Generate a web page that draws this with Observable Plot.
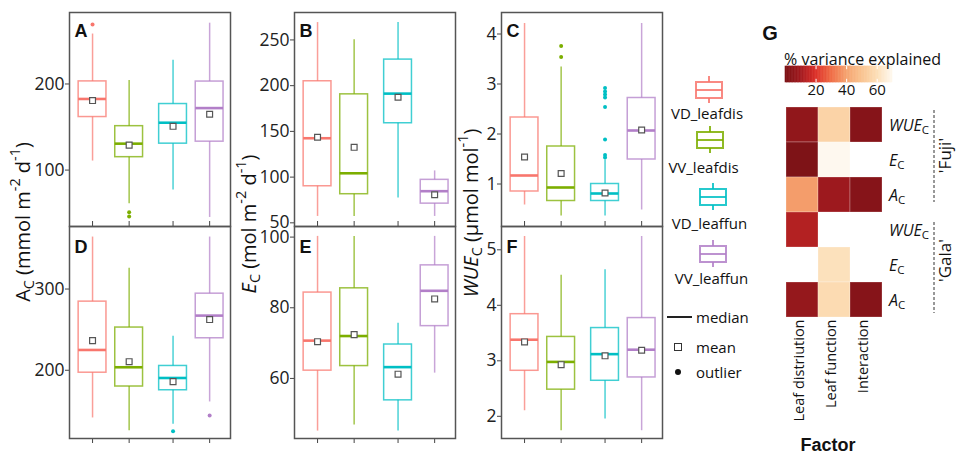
<!DOCTYPE html>
<html><head><meta charset="utf-8">
<script src="https://cdn.jsdelivr.net/npm/d3@7"></script>
<script src="https://cdn.jsdelivr.net/npm/@observablehq/plot@0.6"></script>
<style>
html,body{margin:0;padding:0;background:#fff;}
#chart{position:relative;width:956px;height:454px;overflow:hidden;font-family:"Open Sans",sans-serif;color:#111;}
</style></head>
<body><div id="chart"></div>
<script>
// ---------- box-plot data ----------
const groups = ["VD_leafdis", "VV_leafdis", "VD_leaffun", "VV_leaffun"];
const groupColors = ["#F8766D", "#7CAE00", "#00BFC4", "#B27FC8"];
const groupX = [1, 2, 3.2, 4.2];

// Panel A: A_C, 'Fuji'
const A_low  = [110.5, 61, 77, 45];
const A_q1   = [161.6, 115, 130.7, 133];
const A_med  = [182.6, 130.7, 155, 172];
const A_q3   = [203, 151, 176.7, 202.8];
const A_high = [258, 204, 227.6, 270.6];
const A_mean = [180.7, 129, 150.8, 164.8];
const A_out  = [[269], [51, 46], [], []];
const A_ticks = [100, 200];

// Panel B: E_C, 'Fuji'
const B_low  = [57, 57, 77.3, 57];
const B_q1   = [90, 81.3, 158.9, 71];
const B_med  = [142.5, 104.2, 191.3, 84.6];
const B_q3   = [204.8, 190.5, 228.5, 97];
const B_high = [269, 250.3, 269, 106.8];
const B_mean = [143.6, 132.6, 187.3, 80.7];
const B_out  = [[], [], [], []];
const B_ticks = [50, 100, 150, 200, 250];

// Panel C: WUE_C, 'Fuji'
const C_low  = [0.58, 0.36, 0.36, 0.48];
const C_q1   = [0.85, 0.66, 0.66, 1.49];
const C_med  = [1.17, 0.93, 0.81, 2.07];
const C_q3   = [2.33, 1.75, 1.0, 2.72];
const C_high = [4.21, 3.34, 1.48, 4.21];
const C_mean = [1.54, 1.21, 0.82, 2.08];
const C_out  = [[], [3.76, 3.54], [2.92, 2.85, 2.79, 2.73, 2.54, 1.89, 1.58, 1.53], []];
const C_ticks = [1, 2, 3, 4];

// Panel D: A_C, 'Gala'
const D_low  = [141.3, 125.4, 133.6, 161];
const D_q1   = [197, 180, 175.4, 239.4];
const D_med  = [225, 203.7, 190.5, 267.3];
const D_q3   = [284.5, 252.6, 205.3, 294.3];
const D_high = [364, 325.5, 241.8, 364];
const D_mean = [236.5, 210.6, 186, 262.4];
const D_out  = [[], [], [125], [144.3]];
const D_ticks = [200, 300];

// Panel E: E_C, 'Gala'
const E_low  = [45.1, 46.8, 45.1, 61.5];
const E_q1   = [62.2, 63.5, 53.8, 74.8];
const E_med  = [70.7, 72, 63.2, 84.8];
const E_q3   = [84.3, 85.5, 69.6, 92];
const E_high = [100.2, 100.2, 75.6, 100.2];
const E_mean = [70.4, 72.4, 61.2, 82.5];
const E_out  = [[], [], [], []];
const E_ticks = [60, 80, 100];

// Panel F: WUE_C, 'Gala'
const F_low  = [2.1, 1.74, 1.95, 1.74];
const F_q1   = [2.82, 2.48, 2.64, 2.7];
const F_med  = [3.38, 2.98, 3.12, 3.2];
const F_q3   = [3.84, 3.43, 3.59, 3.77];
const F_high = [5.24, 4.54, 4.64, 5.24];
const F_mean = [3.34, 2.93, 3.09, 3.19];
const F_out  = [[], [], [], []];
const F_ticks = [2, 3, 4, 5];

// ---------- heatmap data (% variance explained) ----------
const hmFactors  = ["Leaf distriution", "Leaf function", "Interaction"];
const hmCultivar = ["Fuji", "Fuji", "Fuji", "Gala", "Gala", "Gala"];
const hmVar      = ["WUE", "E", "A", "WUE", "E", "A"];
const hmLeafDis  = [6, 1, 39, 13, null, 7];
const hmLeafFun  = [56, 70, 9, null, 61, 59];
const hmInteract = [3, null, 3, null, null, 3];
const cbTicks = [20, 40, 60];
const cbStops  = [0, 10, 20, 30, 40, 50, 60, 70];
const cbColors = ["#7a1216", "#a11a1f", "#dc3029", "#ef6b45", "#f5a26f", "#f9c390", "#fcdeb6", "#fef8ef"];

// ---------- layout ----------
const chart = document.getElementById("chart");
function place(el, left, top) {
  el.style.position = "absolute";
  el.style.left = left + "px";
  el.style.top = top + "px";
  chart.appendChild(el);
  return el;
}
const FONT = "'Open Sans', sans-serif";
const PW = 161;

function boxPanel(letter, low, q1, med, q3, high, mean, out, yDomain, yTicks, left, row) {
  const rows = groups.map((g, i) => ({g, x: groupX[i], color: groupColors[i], low: low[i], q1: q1[i], med: med[i], q3: q3[i], high: high[i], mean: mean[i]}));
  const outl = rows.flatMap((r, i) => out[i].map(v => ({x: r.x, color: r.color, v})));
  const mL = 52, mR = 1;
  const mT = row === 0 ? 12 : 0, mB = row === 0 ? 0 : 8;
  const ph = row === 0 ? 214 : 212;
  const hw = 0.38;
  const p = Plot.plot({
    width: mL + PW + mR, height: mT + ph + mB,
    marginLeft: mL, marginRight: mR, marginTop: mT, marginBottom: mB,
    x: {domain: [0.37, 4.77], axis: null},
    y: {domain: yDomain, axis: null},
    color: {type: "identity"},
    style: {fontFamily: FONT, fontSize: "17.5px", color: "#222", background: "transparent", overflow: "visible"},
    marks: [
      Plot.axisY({ticks: yTicks, tickSize: 4, tickPadding: 1, fontSize: 17.5, label: null, stroke: "#444", tickFormat: d => String(d)}),
      Plot.axisX({ticks: groupX, tickSize: 5, tickFormat: () => "", label: null, dy: row === 0 ? -5 : 0, stroke: "#444"}),
      Plot.ruleX(rows, {x: "x", y1: "low", y2: "q1", stroke: "color", strokeOpacity: 0.7, strokeWidth: 1.5}),
      Plot.ruleX(rows, {x: "x", y1: "q3", y2: "high", stroke: "color", strokeOpacity: 0.7, strokeWidth: 1.5}),
      Plot.rect(rows, {x1: d => d.x - hw, x2: d => d.x + hw, y1: "q1", y2: "q3", fill: "none", stroke: "color", strokeOpacity: 0.75, strokeWidth: 1.5}),
      Plot.ruleY(rows, {y: "med", x1: d => d.x - hw, x2: d => d.x + hw, stroke: "color", strokeWidth: 2.6}),
      Plot.dot(outl, {x: "x", y: "v", fill: "color", r: 2}),
      Plot.dot(rows, {x: "x", y: "mean", symbol: "square", r: 3.3, fill: "white", stroke: "#555", strokeWidth: 1.2}),
      Plot.frame({stroke: "#555", strokeWidth: 1.5}),
      Plot.text([letter], {frameAnchor: "top-left", text: d => d, dx: 5, dy: row === 0 ? 12 : 14, textAnchor: "start", fontWeight: "bold", fontSize: 18, fontFamily: "'Liberation Sans', Arial, sans-serif", fill: "#111"})
    ]
  });
  return place(p, left - mL, row === 0 ? 0 : 226);
}

boxPanel("A", A_low, A_q1, A_med, A_q3, A_high, A_mean, A_out, [34.5, 283], A_ticks, 69, 0);
boxPanel("B", B_low, B_q1, B_med, B_q3, B_high, B_mean, B_out, [46, 280], B_ticks, 294, 0);
boxPanel("C", C_low, C_q1, C_med, C_q3, C_high, C_mean, C_out, [0.15, 4.43], C_ticks, 501, 0);
boxPanel("D", D_low, D_q1, D_med, D_q3, D_high, D_mean, D_out, [116, 377], D_ticks, 69, 1);
boxPanel("E", E_low, E_q1, E_med, E_q3, E_high, E_mean, E_out, [43, 103], E_ticks, 294, 1);
boxPanel("F", F_low, F_q1, F_med, F_q3, F_high, F_mean, F_out, [1.6, 5.42], F_ticks, 501, 1);

// ---------- heatmap ----------
const hmKeys = hmCultivar.map((c, i) => c + " " + hmVar[i]);
const hmCells = [];
hmKeys.forEach((k, i) => {
  [hmLeafDis, hmLeafFun, hmInteract].forEach((arr, j) => {
    if (arr[i] != null) hmCells.push({row: k, factor: hmFactors[j], value: arr[i]});
  });
});
const colorOpts = {type: "linear", domain: cbStops, range: cbColors, clamp: true};
const hmTop = 107, hmLeft = 785;
const hm = Plot.plot({
  width: 97, height: 210 + 125,
  marginLeft: 0, marginRight: 0, marginTop: 0, marginBottom: 125,
  x: {domain: hmFactors, padding: 0, axis: null},
  y: {domain: hmKeys, padding: 0, axis: null},
  color: colorOpts,
  style: {fontFamily: FONT, fontSize: "14px", color: "#111", background: "transparent", overflow: "visible"},
  marks: [
    Plot.cell(hmCells, {x: "factor", y: "row", fill: "value", stroke: "white", strokeOpacity: 0.25}),
    Plot.axisX({anchor: "bottom", tickRotate: -90, tickSize: 0, tickPadding: 2, fontSize: 14.5, label: null, dx: -3})
  ]
});
place(hm, hmLeft, hmTop);

// colour bar
const cbSteps = d3.range(0, 70, 1);
const cb = Plot.plot({
  width: 107, height: 34,
  marginLeft: 0, marginRight: 0, marginTop: 0, marginBottom: 18,
  x: {domain: [0, 70], axis: null},
  y: {domain: [0, 1], axis: null},
  color: colorOpts,
  style: {fontFamily: FONT, fontSize: "15px", color: "#111", background: "transparent", overflow: "visible"},
  marks: [
    Plot.rect(cbSteps, {x1: d => d, x2: d => d + 1, y1: 0, y2: 1, fill: d => d + 0.5, stroke: d => d + 0.5, strokeWidth: 0.6}),
    Plot.ruleX(cbTicks, {x: d => d, y1: 0, y2: 0.2, stroke: "white", strokeWidth: 1}),
    Plot.ruleX(cbTicks, {x: d => d, y1: 0.8, y2: 1, stroke: "white", strokeWidth: 1}),
    Plot.axisX({ticks: cbTicks, tickSize: 0, tickPadding: 2, fontSize: 15, label: null})
  ]
});
place(cb, 785, 66);

// ---------- overlay text / legend ----------
const svg = d3.create("svg").attr("width", 956).attr("height", 454)
  .style("position", "absolute").style("left", "0px").style("top", "0px")
  .style("overflow", "visible").style("pointer-events", "none")
  .attr("font-family", FONT).attr("fill", "#111");

function rich(x, y, parts, size, rotate) {
  const t = svg.append("text")
    .attr("transform", `translate(${x},${y})` + (rotate ? " rotate(-90)" : ""))
    .attr("text-anchor", rotate ? "middle" : "start")
    .attr("dominant-baseline", "central")
    .attr("font-size", size);
  let shift = 0;
  parts.forEach(p => {
    const target = p.s === "sub" ? 0.3 * size : p.s === "sup" ? -0.38 * size : 0;
    const ts = t.append("tspan").attr("dy", target - shift).text(p.t);
    if (p.s) ts.attr("font-size", size * 0.72);
    if (p.i) ts.attr("font-style", "italic");
    shift = target;
  });
  return t;
}
// y-axis titles
rich(22, 222, [{t: "A"}, {t: "C", s: "sub"}, {t: " (mmol m"}, {t: "-2", s: "sup"}, {t: " d"}, {t: "-1", s: "sup"}, {t: ")"}], 20, true);
rich(248, 224, [{t: "E", i: true}, {t: "C", s: "sub"}, {t: " (mol m"}, {t: "-2", s: "sup"}, {t: " d"}, {t: "-1", s: "sup"}, {t: ")"}], 20, true);
rich(470, 213, [{t: "WUE", i: true}, {t: "C", s: "sub"}, {t: " (µmol mol"}, {t: "-1", s: "sup"}, {t: ")"}], 20, true);

// group legend
const legIconX = [709, 710, 713, 713];
const legIconY = [90, 140, 197, 254];
const legLabX = [707, 703.5, 709.5, 711.5];
const legLabY = [113, 167, 223, 278];
groups.forEach((g, i) => {
  const cx = legIconX[i], cy = legIconY[i], c = groupColors[i];
  const gg = svg.append("g").attr("stroke", c).attr("stroke-width", 2).attr("fill", "none").attr("stroke-opacity", 0.85);
  gg.append("line").attr("x1", cx).attr("x2", cx).attr("y1", cy - 14).attr("y2", cy + 13);
  gg.append("rect").attr("x", cx - 13).attr("y", cy - 8).attr("width", 26).attr("height", 16).attr("fill", "white");
  gg.append("line").attr("x1", cx - 13).attr("x2", cx + 13).attr("y1", cy).attr("y2", cy);
  svg.append("text").attr("x", legLabX[i]).attr("y", legLabY[i]).attr("text-anchor", "middle")
    .attr("dominant-baseline", "central").attr("font-size", 15).text(g);
});
svg.append("line").attr("x1", 667).attr("x2", 692).attr("y1", 317).attr("y2", 317).attr("stroke", "#222").attr("stroke-width", 2);
svg.append("rect").attr("x", 674.5).attr("y", 343.5).attr("width", 7).attr("height", 7).attr("fill", "white").attr("stroke", "#333").attr("stroke-width", 1);
svg.append("circle").attr("cx", 678).attr("cy", 372).attr("r", 3).attr("fill", "#111");
[["median", 317], ["mean", 347], ["outlier", 372]].forEach(([t, y]) =>
  svg.append("text").attr("x", 696).attr("y", y).attr("dominant-baseline", "central").attr("font-size", 15).text(t));

// heatmap annotations
svg.append("text").attr("x", 770).attr("y", 33).attr("text-anchor", "middle").attr("dominant-baseline", "central")
  .attr("font-family", "'Liberation Sans', Arial, sans-serif").attr("font-weight", "bold").attr("font-size", 20).text("G");
svg.append("text").attr("x", 784).attr("y", 59).attr("dominant-baseline", "central").attr("font-size", 16).text("% variance explained");
svg.append("text").attr("x", 828).attr("y", 445).attr("text-anchor", "middle").attr("dominant-baseline", "central")
  .attr("font-family", "'Liberation Sans', Arial, sans-serif").attr("font-weight", "bold").attr("font-size", 18).text("Factor");
const yS = hm.scale("y");
hmKeys.forEach((k, i) => {
  const cy = hmTop + yS.apply(k) + yS.bandwidth / 2;
  rich(889, cy, [{t: hmVar[i], i: true}, {t: "C", s: "sub"}], 16, false);
});
const cultivars = ["Fuji", "Gala"];
const dashY = [[110, 202], [222, 313]];
cultivars.forEach((c, j) => {
  const ks = hmKeys.filter((k, i) => hmCultivar[i] === c);
  const top = hmTop + yS.apply(ks[0]);
  const bot = hmTop + yS.apply(ks[ks.length - 1]) + yS.bandwidth;
  svg.append("line").attr("x1", 934).attr("x2", 934).attr("y1", dashY[j][0]).attr("y2", dashY[j][1])
    .attr("stroke", "#333").attr("stroke-width", 1).attr("stroke-dasharray", "3,2");
  svg.append("text").attr("transform", `translate(944,${(top + bot) / 2 - 4}) rotate(-90)`).attr("text-anchor", "middle")
    .attr("dominant-baseline", "central").attr("font-size", 17).text("'" + c + "'");
});
chart.appendChild(svg.node());
</script>
</body></html>
